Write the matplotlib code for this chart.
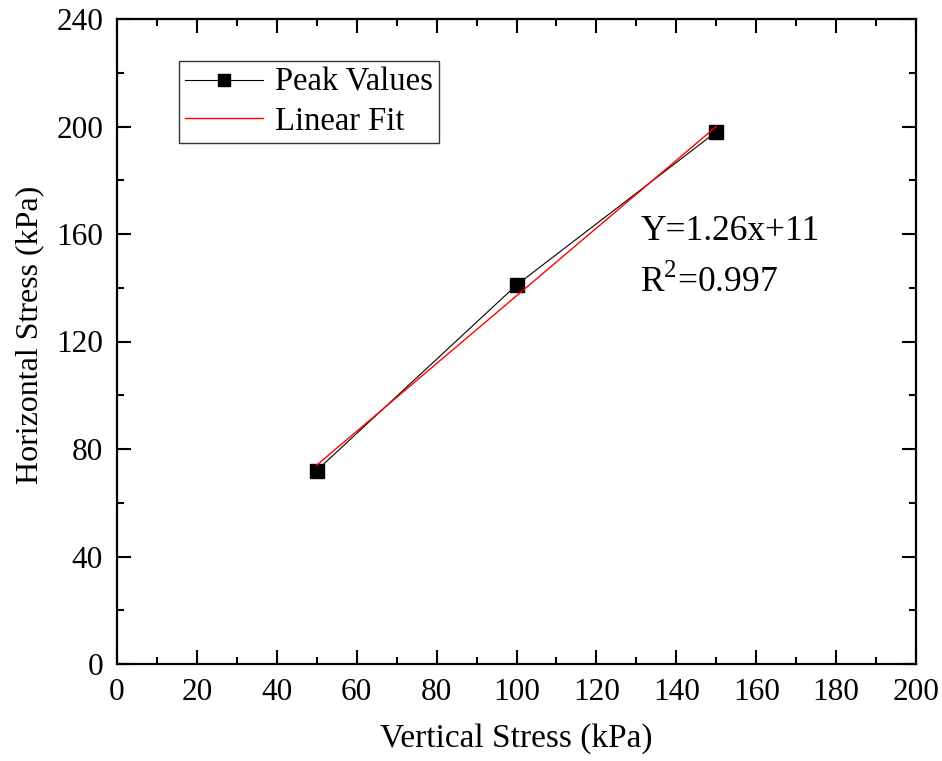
import matplotlib.pyplot as plt
import numpy as np
from matplotlib.ticker import MultipleLocator

plt.rcParams['font.family'] = ['Liberation Serif', 'DejaVu Serif']
plt.rcParams['mathtext.fontset'] = 'custom'
plt.rcParams['mathtext.rm'] = 'Liberation Serif'

# peak values
vertical = np.array([50, 100, 150])
horizontal = np.array([72, 141, 198])

slope, intercept = np.polyfit(vertical, horizontal, 1)
fit_x = np.array([vertical.min(), vertical.max()])
fit_y = slope * fit_x + intercept

fig = plt.figure(figsize=(9.42, 7.61), dpi=100)
ax = fig.add_axes([117 / 942, 97 / 761, 799 / 942, 645 / 761])

ax.plot(vertical, horizontal, color="black", lw=0.8, marker="s", ms=9.5,
        label="Peak Values")
ax.plot(fit_x, fit_y, color="red", lw=1.0, label="Linear Fit")

ax.set_xlim(0, 200)
ax.set_ylim(0, 240)
ax.xaxis.set_major_locator(MultipleLocator(20))
ax.xaxis.set_minor_locator(MultipleLocator(10))
ax.yaxis.set_major_locator(MultipleLocator(40))
ax.yaxis.set_minor_locator(MultipleLocator(20))
ax.tick_params(which="both", direction="in", top=True, right=True,
               width=1.5, labelsize=22.5)
ax.tick_params(which="major", length=10, pad=10)
ax.tick_params(which="minor", length=5)
for s in ax.spines.values():
    s.set_linewidth(1.6)

ax.set_xlabel("Vertical Stress (kPa)", fontsize=24, labelpad=12)
ax.set_ylabel("Horizontal Stress (kPa)", fontsize=23)
ax.yaxis.set_label_coords(-0.091, 0.51)

ax.text(131, 161, "Y=1.26x+11", fontsize=25.5, va="center")
ax.text(131, 142, r"R$^{2}$=0.997", fontsize=25.5, va="center")

leg = ax.legend(loc="upper left", bbox_to_anchor=(0.077, 0.935), fontsize=23.5,
                frameon=True, fancybox=False, edgecolor="black",
                handlelength=2.4, handletextpad=0.35, borderpad=0.2,
                labelspacing=0.25, borderaxespad=0, markerscale=0.85)
leg.get_frame().set_linewidth(1.0)

fig.savefig("out.png", dpi=100)
